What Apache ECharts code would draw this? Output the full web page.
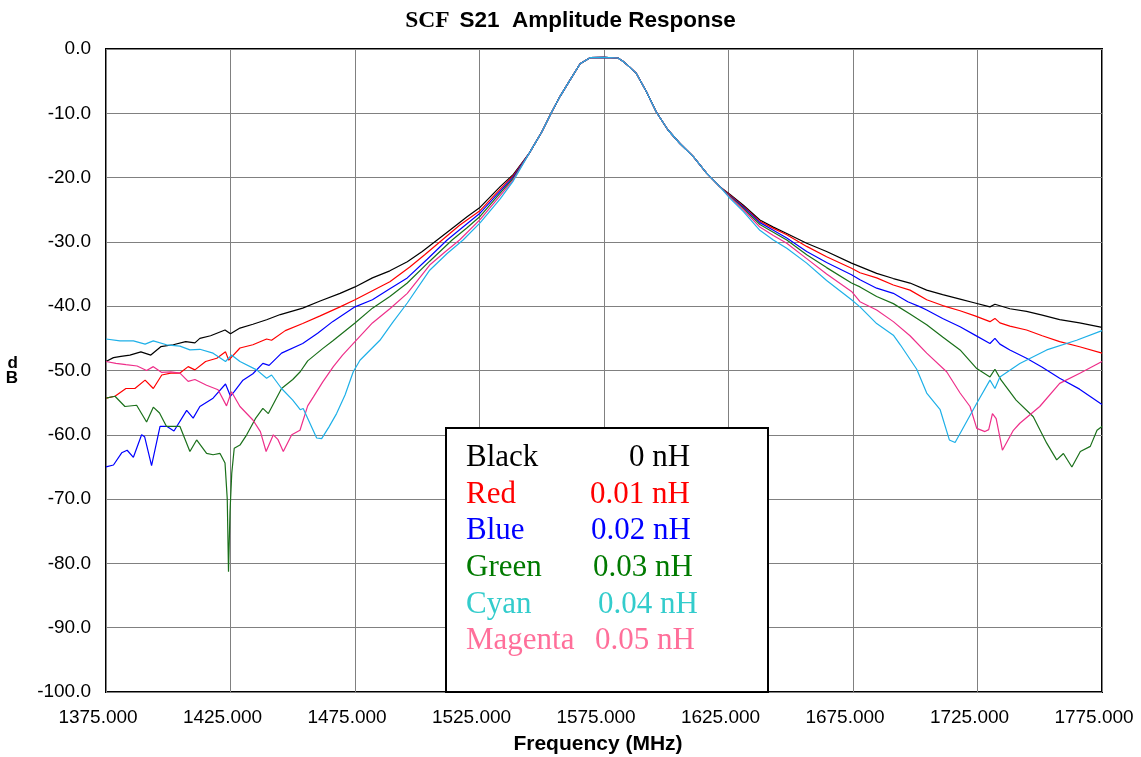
<!DOCTYPE html>
<html>
<head>
<meta charset="utf-8">
<script src="https://cdn.jsdelivr.net/npm/echarts@6/dist/echarts.min.js"></script>
<style>html,body{margin:0;padding:0;background:#fff}#c{width:1141px;height:757px}</style>
</head>
<body>
<div id="c"></div>
<script>
// ---- data (frequency MHz, S21 dB) ----
const xTicks = [1375, 1425, 1475, 1525, 1575, 1625, 1675, 1725, 1775];
const yTicks = [0, -10, -20, -30, -40, -50, -60, -70, -80, -90, -100];
const seriesNames = ['Black', 'Red', 'Blue', 'Green', 'Cyan', 'Magenta'];
const inductance = ['0 nH', '0.01 nH', '0.02 nH', '0.03 nH', '0.04 nH', '0.05 nH'];

// shared passband core (all traces overlap here)
const passbandCore = [[1545,-16.2],[1550,-12.9],[1554,-9.8],[1557.3,-7.4],[1561.4,-4.8],[1565.4,-2.3],[1569.4,-1.35],[1575,-1.3],[1580.6,-1.4],[1582.6,-1.9],[1585,-2.7],[1588,-3.8],[1592,-6.6],[1596,-9.8],[1600.7,-12.6],[1605.5,-14.7],[1610.8,-16.7],[1616.2,-19.3],[1621.5,-21.4]];

const blackLow = [[1375,-48.6],[1378,-48.0],[1381,-47.8],[1384.6,-47.6],[1389,-47.1],[1393,-47.6],[1397,-46.3],[1402,-46.0],[1407,-45.5],[1410.7,-45.7],[1412.7,-45.0],[1417,-44.6],[1422.8,-43.7],[1425,-44.3],[1428.8,-43.4],[1434,-42.8],[1439.5,-42.1],[1445,-41.3],[1454,-40.3],[1461,-39.2],[1469,-38.0],[1475,-37.0],[1482,-35.6],[1489,-34.5],[1496,-33.1],[1502,-31.5],[1508,-29.7],[1515,-27.6],[1520,-26.1],[1525.3,-24.6],[1533.3,-21.4],[1538.6,-19.5]];
const blackHigh = [[1625.5,-22.6],[1631,-24.3],[1637.6,-26.6],[1643,-27.7],[1648.4,-28.7],[1656.4,-30.2],[1664.4,-31.5],[1674.4,-33.3],[1684.5,-34.9],[1691.2,-35.7],[1697.9,-36.4],[1704.6,-37.5],[1711,-38.2],[1718,-38.9],[1724,-39.5],[1730,-40.1],[1732,-39.7],[1738,-40.4],[1744.7,-40.8],[1751,-41.4],[1758,-42.1],[1766,-42.6],[1775,-43.3]];

const redLow = [[1375,-54.3],[1378.6,-54.0],[1383,-52.8],[1386.6,-52.8],[1390.7,-51.5],[1394,-52.8],[1397.4,-50.7],[1401,-50.4],[1404.7,-50.4],[1408,-49.4],[1410.7,-49.9],[1415,-48.6],[1419.5,-48.1],[1423,-47.1],[1424.3,-48.4],[1428.8,-46.5],[1434,-46.0],[1439.5,-45.1],[1441.5,-45.3],[1447,-43.8],[1454,-42.7],[1461,-41.5],[1469,-40.1],[1475,-39.0],[1482,-37.6],[1489,-36.2],[1497,-33.9],[1503,-32.0],[1510,-29.7],[1517,-27.4],[1525.3,-25.1],[1533.3,-21.8],[1538.6,-19.7]];
const redHigh = [[1625.5,-22.7],[1631,-24.5],[1637.6,-26.8],[1643,-27.9],[1648.4,-28.9],[1656.4,-30.7],[1664.4,-32.3],[1674.4,-34.1],[1677.8,-34.8],[1684.5,-35.6],[1691.2,-36.7],[1697.9,-37.5],[1704.6,-39.0],[1711,-39.9],[1718,-40.7],[1724,-41.5],[1730,-42.4],[1732,-41.9],[1734,-42.6],[1738,-43.1],[1744.7,-43.7],[1751,-44.6],[1758,-45.5],[1766,-46.3],[1775,-47.3]];

const blueLow = [[1375,-65.0],[1378,-64.7],[1381.3,-62.8],[1383.5,-62.4],[1386,-63.5],[1389.3,-60.0],[1390.5,-60.3],[1393.3,-64.8],[1396.7,-58.7],[1399.5,-58.7],[1402.3,-59.4],[1407.4,-56.2],[1410,-57.4],[1412.7,-55.6],[1418,-54.3],[1423,-52.1],[1425,-54.0],[1426.5,-53.3],[1430,-51.5],[1434,-50.5],[1438,-48.9],[1440.5,-49.2],[1445.5,-47.3],[1454,-45.8],[1460,-44.2],[1466,-42.4],[1475,-40.1],[1482,-39.0],[1489,-37.3],[1496,-35.6],[1504,-32.7],[1512,-29.7],[1518,-27.8],[1525.3,-25.5],[1533.3,-22.1],[1538.6,-19.9]];
const blueHigh = [[1625.5,-22.8],[1631,-24.6],[1637.6,-27.0],[1643,-28.2],[1648.4,-29.4],[1656.4,-31.5],[1664.4,-33.2],[1674.4,-35.1],[1677.8,-35.9],[1684.5,-37.2],[1691.2,-38.0],[1697,-39.3],[1702,-40.1],[1704.6,-40.6],[1711,-41.9],[1718,-43.2],[1724,-44.5],[1730,-45.8],[1732,-45.0],[1734,-45.9],[1738,-46.8],[1744.7,-48.1],[1751,-49.5],[1758,-51.2],[1766,-52.9],[1775,-55.3]];

const greenLow = [[1375,-54.3],[1378.6,-54.0],[1382.6,-55.6],[1387.3,-55.4],[1391.3,-58.0],[1394,-55.7],[1396.5,-56.6],[1399.3,-58.7],[1404.7,-58.7],[1408.7,-62.6],[1411.4,-60.8],[1415.4,-62.9],[1418,-63.1],[1420.8,-62.9],[1422.8,-64.4],[1423.7,-70],[1424.2,-81.3],[1424.8,-72],[1425.5,-66],[1426.5,-62.1],[1428.8,-61.6],[1431.5,-60.0],[1435,-57.5],[1438,-55.9],[1440.2,-56.7],[1445.5,-52.8],[1450,-51.4],[1453,-50.2],[1456,-48.5],[1462,-46.6],[1466,-45.4],[1475,-42.6],[1482,-40.3],[1489,-38.5],[1496,-36.4],[1505,-33.0],[1514,-29.7],[1520,-27.8],[1525.3,-26.0],[1533.3,-22.4],[1538.6,-20.1]];
const greenHigh = [[1625.5,-22.9],[1631,-24.8],[1637.6,-27.3],[1643,-28.5],[1648.4,-29.7],[1656.4,-32.0],[1664.4,-34.0],[1674.4,-36.4],[1677.8,-37.0],[1684.5,-38.5],[1691.2,-39.6],[1697.9,-41.2],[1704.6,-42.9],[1711,-44.8],[1718,-46.8],[1724.7,-49.7],[1730,-51.0],[1732,-49.8],[1734.5,-51.5],[1740.5,-54.6],[1747.4,-57.2],[1752.8,-61.3],[1756.8,-63.9],[1759.5,-62.9],[1762.9,-65.0],[1766.3,-62.6],[1770.3,-61.8],[1773,-59.3],[1775,-58.7]];

const cyanLow = [[1375,-45.1],[1380.6,-45.4],[1386,-45.4],[1390.7,-45.9],[1394,-45.4],[1399.3,-46.0],[1404.7,-46.2],[1408.7,-46.8],[1412.7,-46.7],[1418,-47.3],[1423,-48.6],[1425.4,-47.6],[1428.8,-48.6],[1435.5,-49.9],[1439.5,-51.2],[1441.5,-50.7],[1445.5,-52.8],[1450,-54.6],[1453,-56.1],[1454.2,-55.9],[1456.3,-57.7],[1459.6,-60.5],[1461.6,-60.6],[1464.5,-58.8],[1467.6,-56.7],[1471,-53.8],[1474.3,-50.2],[1477,-48.4],[1485,-45.3],[1490,-42.6],[1496,-39.5],[1505,-34.4],[1512,-31.8],[1518.4,-29.7],[1525.3,-27.0],[1533.3,-23.3],[1538.6,-20.5]];
const cyanHigh = [[1625.5,-23.2],[1631,-25.3],[1637.6,-28.2],[1643,-29.7],[1648.4,-31.0],[1656.4,-33.3],[1664.4,-36.0],[1674.4,-39.0],[1677.8,-40.1],[1684.5,-42.7],[1691.2,-44.5],[1694,-46.0],[1700.6,-49.8],[1704.6,-53.5],[1710,-56.1],[1713.7,-60.8],[1716,-61.2],[1718,-59.8],[1724.7,-55.1],[1730,-51.5],[1732,-52.8],[1734,-51.0],[1742,-48.9],[1752.8,-46.8],[1764.8,-45.3],[1775,-43.8]];

const magentaLow = [[1375,-48.6],[1379,-48.9],[1383,-49.1],[1387.5,-49.3],[1391.3,-50.0],[1394,-49.4],[1397.4,-50.3],[1401,-50.2],[1404.7,-50.4],[1408,-51.7],[1410.7,-51.4],[1415.4,-52.3],[1420,-53.0],[1423.4,-55.5],[1425.4,-53.3],[1428.8,-55.6],[1434,-57.7],[1437,-59.5],[1439.3,-62.6],[1442.2,-60.0],[1444,-60.7],[1446.2,-62.6],[1449.6,-60.0],[1452.9,-59.3],[1456,-55.5],[1458.3,-54.1],[1462,-51.8],[1466.3,-49.4],[1470,-47.6],[1475,-45.5],[1482,-42.6],[1489,-40.4],[1496,-38.0],[1505,-33.6],[1511,-31.6],[1517,-29.7],[1525.3,-26.5],[1533.3,-22.8],[1538.6,-20.3]];
const magentaHigh = [[1625.5,-23.0],[1631,-25.0],[1637.6,-27.7],[1643,-29.0],[1648.4,-30.2],[1656.4,-32.6],[1664.4,-35.0],[1674.4,-37.7],[1677.8,-39.3],[1684.5,-40.6],[1691.2,-42.4],[1697.9,-44.6],[1704.6,-47.3],[1712.6,-50.2],[1718,-53.5],[1722,-55.6],[1724.7,-59.0],[1728,-59.5],[1729.5,-59.2],[1731,-56.7],[1732.5,-57.5],[1735,-62.4],[1739.4,-59.3],[1742,-58.2],[1750,-55.6],[1758,-52.0],[1766.3,-50.4],[1775,-48.6]];

// ---- styles ----
const lineColors = {Black:'#000000', Red:'#ff0000', Blue:'#0000ff', Green:'#1a701a', Cyan:'#1eb0e8', Magenta:'#ee2f8a'};
const textColors = {Black:'#000000', Red:'#ff0000', Blue:'#0000ff', Green:'#007a00', Cyan:'#33cccc', Magenta:'#ff6f9a'};
const lowParts = {Black:blackLow, Red:redLow, Blue:blueLow, Green:greenLow, Cyan:cyanLow, Magenta:magentaLow};
const highParts = {Black:blackHigh, Red:redHigh, Blue:blueHigh, Green:greenHigh, Cyan:cyanHigh, Magenta:magentaHigh};
const drawOrder = ['Black','Red','Blue','Green','Magenta','Cyan'];

const series = drawOrder.map(n => ({
  name: n, type: 'line', showSymbol: false, symbol: 'none', smooth: false,
  data: lowParts[n].concat(passbandCore, highParts[n]),
  lineStyle: {color: lineColors[n], width: 1.2},
  itemStyle: {color: lineColors[n]},
  silent: true, animation: false, z: 2
}));

// legend box layout (pixel)
const legLeft = 466, legTop = 458, legStep = 36.6;
const valueX = [629, 590, 591, 593, 598, 595];
const graphics = [{
  type: 'rect', z: 50,
  shape: {x: 446, y: 428, width: 322, height: 264},
  style: {fill: '#ffffff', stroke: '#000000', lineWidth: 2}
}];
seriesNames.forEach((n, i) => {
  const font = '31px "Liberation Serif", "Times New Roman", serif';
  graphics.push({type: 'text', z: 51, x: legLeft, y: legTop + i * legStep,
    style: {text: n, font: font, fill: textColors[n], textVerticalAlign: 'middle', verticalAlign: 'middle', align: 'left'}});
  graphics.push({type: 'text', z: 51, x: valueX[i], y: legTop + i * legStep,
    style: {text: inductance[i], font: font, fill: textColors[n], textVerticalAlign: 'middle', verticalAlign: 'middle', align: 'left'}});
});

const chart = echarts.init(document.getElementById('c'), null, {renderer: 'canvas'});
chart.setOption({
  animation: false,
  backgroundColor: '#ffffff',
  title: {
    text: '{a|SCF}  {b|S21  Amplitude Response}',
    left: 'center', top: 3,
    textStyle: {
      rich: {
        a: {fontFamily: '"Liberation Serif", "Times New Roman", serif', fontWeight: 'bold', fontSize: 23.5, color: '#000', lineHeight: 26},
        b: {fontFamily: '"Liberation Sans", Arial, sans-serif', fontWeight: 'bold', fontSize: 22.5, color: '#000', lineHeight: 26}
      }
    }
  },
  grid: {left: 106, right: 39, top: 49, bottom: 65, show: true, borderColor: '#000', borderWidth: 2, backgroundColor: 'transparent', outerBoundsMode: 'none', containLabel: false},
  xAxis: {
    type: 'value', min: xTicks[0], max: xTicks[xTicks.length - 1], interval: 50,
    name: 'Frequency (MHz)', nameLocation: 'middle', nameGap: 42,
    nameTextStyle: {fontFamily: '"Liberation Sans", Arial, sans-serif', fontWeight: 'bold', fontSize: 21, color: '#000', padding: [0, 12, 0, 0]},
    axisLine: {show: false}, axisTick: {show: false},
    axisLabel: {margin: 16, padding: [0, 16, 0, 0], fontFamily: '"Liberation Sans", Arial, sans-serif', fontSize: 19, color: '#000', formatter: v => v.toFixed(3)},
    splitLine: {show: true, lineStyle: {color: '#808080', width: 1}}
  },
  yAxis: {
    type: 'value', min: yTicks[yTicks.length - 1], max: yTicks[0], interval: 10,
    name: 'd\nB', nameLocation: 'middle', nameGap: 88, nameRotate: 0,
    nameTextStyle: {fontFamily: '"Liberation Sans", Arial, sans-serif', fontWeight: 'bold', fontSize: 17, color: '#000', lineHeight: 15},
    axisLine: {show: false}, axisTick: {show: false},
    axisLabel: {margin: 15, fontFamily: '"Liberation Sans", Arial, sans-serif', fontSize: 19, color: '#000', formatter: v => v.toFixed(1)},
    splitLine: {show: true, lineStyle: {color: '#808080', width: 1}}
  },
  series: series,
  graphic: graphics
});
</script>
</body>
</html>
